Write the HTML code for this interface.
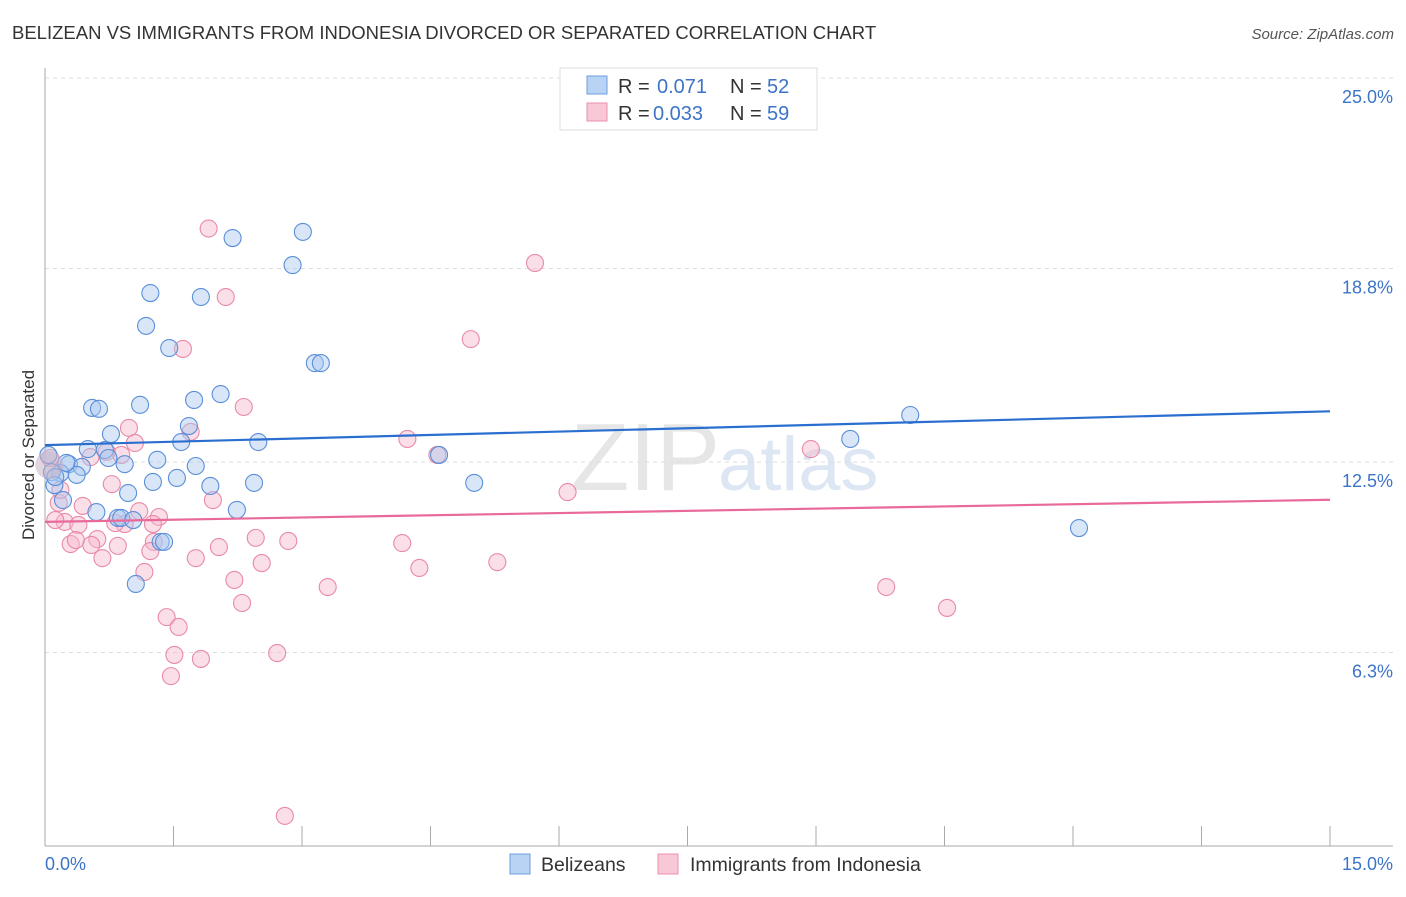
<!DOCTYPE html>
<html><head><meta charset="utf-8"><style>
body{margin:0;background:#fff;font-family:"Liberation Sans",sans-serif}
svg text{font-family:"Liberation Sans",sans-serif}
</style></head><body>
<svg id="c" width="1406" height="892">
<text x="12" y="39" font-size="18.5" fill="#333">BELIZEAN VS IMMIGRANTS FROM INDONESIA DIVORCED OR SEPARATED CORRELATION CHART</text>
<text x="1394" y="39" font-size="15" fill="#555" font-style="italic" text-anchor="end">Source: ZipAtlas.com</text>
<text x="720" y="490" font-size="96" fill="#e6e6e6" text-anchor="end" font-family="Liberation Serif">ZIP</text>
<text x="718" y="490" font-size="76" fill="#dde6f3">atlas</text>
<g id="grid"></g><g id="axes"></g><g id="pts"></g><g id="trend"></g>
<text transform="translate(34,455) rotate(-90)" font-size="17" fill="#333" text-anchor="middle">Divorced or Separated</text>
<text x="45" y="870" font-size="18" fill="#3d74c8">0.0%</text>
<text x="1393" y="870" font-size="18" fill="#3d74c8" text-anchor="end">15.0%</text>
<g>
<rect x="560" y="68" width="257" height="62" fill="#fff" stroke="#ddd"/>
<rect x="587" y="76" width="20" height="18" fill="#b9d3f5" stroke="#6c9ee0"/>
<rect x="587" y="103" width="20" height="18" fill="#f9c8d7" stroke="#eb90ac"/>
<text x="618" y="93" font-size="20" fill="#333">R =</text>
<text x="657" y="93" font-size="20" fill="#3d74c8">0.071</text>
<text x="730" y="93" font-size="20" fill="#333">N =</text>
<text x="767" y="93" font-size="20" fill="#3d74c8">52</text>
<text x="618" y="120" font-size="20" fill="#333">R =</text>
<text x="653" y="120" font-size="20" fill="#3d74c8">0.033</text>
<text x="730" y="120" font-size="20" fill="#333">N =</text>
<text x="767" y="120" font-size="20" fill="#3d74c8">59</text>
</g>
<g>
<rect x="510" y="854" width="20" height="20" fill="#b9d3f5" stroke="#6c9ee0"/>
<text x="541" y="871" font-size="19.5" fill="#333">Belizeans</text>
<rect x="658" y="854" width="20" height="20" fill="#f9c8d7" stroke="#eb90ac"/>
<text x="690" y="871" font-size="19.5" fill="#333">Immigrants from Indonesia</text>
</g>
</svg>
<script>
const yTicks=[25.0,18.8,12.5,6.3];
const yTickLabels=["25.0%","18.8%","12.5%","6.3%"];
const xTicks=[0,1.5,3,4.5,6,7.5,9,10.5,12,13.5,15];
const blueX=[2.19,3.01,2.89,1.23,1.82,1.18,1.45,3.15,3.22,2.05,1.74,0.55,0.63,1.11,10.10,1.68,0.77,9.40,1.59,2.49,0.50,0.70,0.74,1.31,4.60,0.28,0.43,0.93,1.76,0.18,0.37,0.08,0.11,1.26,1.54,2.44,1.93,5.01,0.97,0.21,0.60,2.24,0.85,0.89,1.03,1.35,1.39,1.06,12.07,0.04,0.25,0.12];
const blueY=[19.79,19.99,18.91,18.00,17.87,16.93,16.21,15.72,15.72,14.71,14.52,14.26,14.23,14.36,14.03,13.67,13.41,13.25,13.15,13.15,12.92,12.89,12.63,12.57,12.73,12.43,12.34,12.43,12.37,12.14,12.08,12.17,11.75,11.85,11.98,11.82,11.72,11.82,11.49,11.26,10.87,10.94,10.68,10.68,10.61,9.90,9.90,8.53,10.35,12.73,12.47,12.01];
const pinkX=[1.91,5.72,2.11,4.97,1.61,2.32,1.70,0.98,1.05,4.23,4.58,8.94,0.89,0.78,6.10,1.96,0.16,0.44,1.10,1.33,0.23,0.39,0.93,0.82,1.26,2.46,2.84,0.30,0.36,0.61,0.54,0.85,1.27,1.23,2.03,1.76,0.67,4.17,2.53,5.28,4.37,1.16,2.21,3.30,9.82,2.30,10.53,1.42,1.56,1.51,1.82,2.71,1.47,2.80,0.06,0.12,0.18,0.53,0.72];
const pinkY=[20.10,18.98,17.87,16.50,16.18,14.29,13.48,13.61,13.12,13.25,12.73,12.92,12.73,11.78,11.52,11.26,11.17,11.07,10.90,10.71,10.55,10.45,10.48,10.51,10.48,10.03,9.93,9.83,9.96,9.99,9.80,9.77,9.90,9.60,9.73,9.37,9.37,9.86,9.21,9.24,9.05,8.92,8.66,8.43,8.43,7.91,7.75,7.45,7.13,6.22,6.09,6.28,5.53,0.98,12.63,10.61,11.59,12.66,12.83];
const blueTrend=[13.05,14.15];
const pinkTrend=[10.55,11.27];
const NS="http://www.w3.org/2000/svg";
const sx=v=>45+v/15*1285, sy=v=>846-v/25*768;
function mk(p,t,a){const e=document.createElementNS(NS,t);for(const k in a)e.setAttribute(k,a[k]);p.appendChild(e);return e;}
const grid=document.getElementById('grid'),axes=document.getElementById('axes'),pts=document.getElementById('pts'),tr=document.getElementById('trend');
yTicks.forEach((v,i)=>{
 const l=mk(grid,'line',{x1:45,x2:1393,y1:sy(v),y2:sy(v),stroke:'#ddd','stroke-dasharray':'4,4'});
 
 
 const t=mk(grid,'text',{x:1393,y:sy(v)+25,'font-size':18,fill:'#3d74c8','text-anchor':'end'});
 t.textContent=yTickLabels[i];
 
 
});
const ya=mk(axes,'line',{x1:45,x2:45,y1:68,y2:846,stroke:'#aaa'});


const xa=mk(axes,'line',{x1:45,x2:1393,y1:846,y2:846,stroke:'#aaa'});


xTicks.forEach(v=>{
 const t=mk(axes,'line',{x1:sx(v),x2:sx(v),y1:826,y2:846,stroke:'#aaa'});
 
 
});
function dots(X,Y,fill,stroke,name){
 X.forEach((x,i)=>{
  const c=mk(pts,'circle',{cx:sx(x),cy:sy(Y[i]),r:8.5,fill:fill,'fill-opacity':0.45,stroke:stroke,'stroke-width':1.1});
  
  
 });
}
dots(pinkX,pinkY,'#f7b9cc','#e88aa8','indonesia-point');
dots(blueX,blueY,'#a9c8f0','#5a8fd8','belizean-point');
const big=mk(pts,'circle',{cx:sx(0.05),cy:sy(12.4),r:14,fill:'#c9b3c8','fill-opacity':0.55});


const bl=mk(tr,'line',{x1:sx(0),x2:sx(15),y1:sy(blueTrend[0]),y2:sy(blueTrend[1]),stroke:'#2a6fd0','stroke-width':2.2});


const pl=mk(tr,'line',{x1:sx(0),x2:sx(15),y1:sy(pinkTrend[0]),y2:sy(pinkTrend[1]),stroke:'#e8699a','stroke-width':2.2});


</script>
</body></html>
